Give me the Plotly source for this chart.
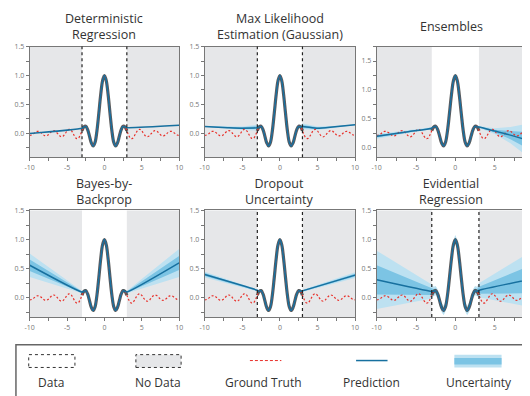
import plotly.graph_objects as go

W, H = 530, 396
OFF = 8  # page offset of the plot div inside the browser window

# ---------------- data ----------------
truth_x = [i * 0.25 for i in range(-40, 41)]
truth_y = [-0.033, -0.028, -0.008, 0.018, 0.035, 0.034, 0.014, -0.015, -0.038, -0.041,
           -0.022, 0.011, 0.040, 0.049, 0.031, -0.005, -0.042, -0.058, -0.043, -0.003,
           0.043, 0.070, 0.060, 0.014, -0.045, -0.086, -0.084, -0.033, 0.046, 0.112,
           0.125, 0.067, -0.047, -0.164, -0.217, -0.152, 0.047, 0.346, 0.665, 0.909,
           1.0,
           0.909, 0.665, 0.346, 0.047, -0.152, -0.217, -0.164, -0.047, 0.067, 0.125,
           0.112, 0.046, -0.033, -0.084, -0.086, -0.045, 0.014, 0.060, 0.070, 0.043,
           -0.003, -0.043, -0.058, -0.042, -0.005, 0.031, 0.049, 0.040, 0.011, -0.022,
           -0.041, -0.038, -0.015, 0.014, 0.034, 0.035, 0.018, -0.008, -0.028, -0.033]
assert len(truth_y) == len(truth_x)

titles = ["Deterministic<br>Regression", "Max Likelihood<br>Estimation (Gaussian)",
          "Ensembles", "Bayes-by-<br>Backprop", "Dropout<br>Uncertainty",
          "Evidential<br>Regression"]

# prediction anchors outside the data region (x < -3 and x > 3), std of uncertainty
det_x = [-10, -3, 3, 10]
det_y = [0.0, 0.09, 0.10, 0.14]
det_sd = [0, 0, 0, 0]
det_sd_in = 0.0

mle_x = [-10, -7, -5, -3, 3, 5, 7, 10]
mle_y = [0.12, 0.10, 0.09, 0.10, 0.12, 0.09, 0.11, 0.15]
mle_sd = [0.004, 0.008, 0.015, 0.025, 0.025, 0.015, 0.008, 0.004]
mle_sd_in = 0.015

ens_x = [-10, -6, -3, 3, 5, 7, 10]
ens_y = [-0.05, 0.03, 0.09, 0.11, 0.04, -0.03, -0.15]
ens_sd = [0.02, 0.012, 0.008, 0.008, 0.025, 0.07, 0.17]
ens_sd_in = 0.01

bbb_x = [-10, -3, 3, 10]
bbb_y = [0.56, 0.10, 0.10, 0.60]
bbb_sd = [0.10, 0.01, 0.01, 0.12]
bbb_sd_in = 0.015

drop_x = [-10, -3, 3, 10]
drop_y = [0.40, 0.13, 0.12, 0.39]
drop_sd = [0.025, 0.01, 0.01, 0.025]
drop_sd_in = 0.01

evi_x = [-10, -3, 3, 10]
evi_y = [0.31, 0.11, 0.13, 0.33]
evi_sd = [0.25, 0.06, 0.06, 0.25]
evi_sd_in = 0.04

panel_offset = [0, 0, 0.25, 0, 0, 0]
show_dash = [True, True, False, False, True, True]

x_tickvals = [-10, -7.5, -5, -2.5, 0, 2.5, 5, 7.5, 10]
x_ticktext = ["-10", "", "-5", "", "0", "", "5", "", "10"]
y_tickvals = [-0.25, 0, 0.25, 0.5, 0.75, 1.0, 1.25, 1.5, 1.75]
y_ticktext = ["", "0.0", "", "0.5", "", "1.0", "", "1.5", ""]

legend_labels = ["Data", "No Data", "Ground Truth", "Prediction", "Uncertainty"]

# ---------------- layout constants (window pixels) ----------------
cols_px = [(25, 177), (203, 356), (378, 538)]
rows_px = [(42, 154), (208, 316)]
row_yrange = [[-0.41, 1.5], [-0.33, 1.5]]
title_y = [22, 189]

BLUE = "#17709f"
LIGHT = "#bde1f1"
MED = "#7cc4e4"
GRAY_BG = "#e6e7e9"
RED = "#e8302a"
TXT = "#333333"
FONT = "Open Sans"

models = [(det_x, det_y, det_sd, det_sd_in), (mle_x, mle_y, mle_sd, mle_sd_in),
          (ens_x, ens_y, ens_sd, ens_sd_in), (bbb_x, bbb_y, bbb_sd, bbb_sd_in),
          (drop_x, drop_y, drop_sd, drop_sd_in), (evi_x, evi_y, evi_sd, evi_sd_in)]


def px2x(p):
    return (p - OFF) / W


def px2y(p):
    return 1 - (p - OFF) / H


fig = go.Figure()
shapes = []
annotations = []

inner_idx = [i for i, x in enumerate(truth_x) if -2.8 < x < 2.8]
data_idx = [i for i, x in enumerate(truth_x) if -3.0 <= x <= 3.0]

for k in range(6):
    r, c = divmod(k, 3)
    xa = "x" if k == 0 else f"x{k+1}"
    ya = "y" if k == 0 else f"y{k+1}"
    off = panel_offset[k]
    mx, my, msd, msd_in = models[k]

    left = [i for i, x in enumerate(mx) if x < 0]
    right = [i for i, x in enumerate(mx) if x > 0]
    px = [mx[i] for i in left] + [truth_x[i] for i in inner_idx] + [mx[i] for i in right]
    py = [my[i] + off for i in left] + [truth_y[i] + off for i in inner_idx] + [my[i] + off for i in right]
    sd = [msd[i] for i in left] + [msd_in] * len(inner_idx) + [msd[i] for i in right]

    if max(sd) > 0:
        for mult, col in [(2, LIGHT), (1, MED)]:
            up = [y + mult * s for y, s in zip(py, sd)]
            lo = [y - mult * s for y, s in zip(py, sd)]
            fig.add_trace(go.Scatter(x=px + px[::-1], y=up + lo[::-1], fill="toself",
                                     fillcolor=col, line=dict(width=0), mode="lines",
                                     hoverinfo="skip", showlegend=False, xaxis=xa, yaxis=ya))
    # observed data
    fig.add_trace(go.Scatter(x=[truth_x[i] for i in data_idx], y=[truth_y[i] + off for i in data_idx],
                             mode="lines", line=dict(color="#4a4a4a", width=3.2, shape="spline"),
                             opacity=0.9, showlegend=False, xaxis=xa, yaxis=ya))
    # ground truth
    fig.add_trace(go.Scatter(x=truth_x, y=[v + off for v in truth_y], mode="lines",
                             line=dict(color=RED, width=1.2, dash="2px,2px", shape="spline"),
                             showlegend=False, xaxis=xa, yaxis=ya))
    # prediction
    fig.add_trace(go.Scatter(x=px, y=py, mode="lines",
                             line=dict(color=BLUE, width=1.5, shape="spline", smoothing=0.6),
                             showlegend=False, xaxis=xa, yaxis=ya))

    x0p, x1p = cols_px[c]
    y0p, y1p = rows_px[r]
    yr = [row_yrange[r][0] + off, row_yrange[r][1] + off]
    if k == 2:
        yt = [0, 0.25, 0.5, 0.75, 1.0, 1.25, 1.5, 1.75]
        ytt = ["0.0", "", "0.5", "", "1.0", "", "1.5", ""]
    else:
        yt, ytt = y_tickvals, y_ticktext
    common = dict(showline=True, mirror=True, linecolor="#777777", linewidth=1,
                  ticks="outside", ticklen=3, tickwidth=1, tickcolor="#777777",
                  showgrid=False, zeroline=False,
                  tickfont=dict(family=FONT, size=7, color="#777777"))
    fig.layout[f"xaxis{'' if k == 0 else k+1}"] = dict(
        domain=[px2x(x0p), min(1.0, px2x(x1p))], anchor=ya, range=[-10, 10],
        tickvals=x_tickvals, ticktext=x_ticktext, **common)
    fig.layout[f"yaxis{'' if k == 0 else k+1}"] = dict(
        domain=[px2y(y1p), px2y(y0p)], anchor=xa, range=yr,
        tickvals=yt, ticktext=ytt, **common)

    for a, b in [(-10, -3), (3, 10)]:
        shapes.append(dict(type="rect", xref=xa, yref=f"{ya} domain", x0=a, x1=b, y0=0, y1=1,
                           fillcolor=GRAY_BG, line=dict(width=0), layer="below"))
    if show_dash[k]:
        for xv in (-3, 3):
            shapes.append(dict(type="line", xref=xa, yref=f"{ya} domain", x0=xv, x1=xv, y0=0, y1=1,
                               line=dict(color="#222222", width=1.2, dash="dot")))

    # titles
    cx = (x0p + min(x1p, 530)) / 2
    annotations.append(dict(text=titles[k], x=px2x(cx), y=px2y(title_y[r]), xref="paper", yref="paper",
                            showarrow=False, xanchor="center", yanchor="middle", align="center",
                            font=dict(family=FONT, size=12.5, color=TXT)))

# ---------------- legend box ----------------
shapes.append(dict(type="rect", xref="paper", yref="paper", x0=px2x(11), x1=1.05,
                   y0=px2y(344), y1=-0.1, line=dict(color="#666666", width=1.5),
                   fillcolor="rgba(0,0,0,0)"))
shapes.append(dict(type="rect", xref="paper", yref="paper", x0=px2x(24), x1=px2x(71),
                   y0=px2y(367), y1=px2y(354), fillcolor="white",
                   line=dict(color="#333333", width=1, dash="dot")))
shapes.append(dict(type="rect", xref="paper", yref="paper", x0=px2x(133), x1=px2x(179),
                   y0=px2y(367), y1=px2y(354), fillcolor=GRAY_BG,
                   line=dict(color="#333333", width=1, dash="dot")))
shapes.append(dict(type="line", xref="paper", yref="paper", x0=px2x(249), x1=px2x(281),
                   y0=px2y(360), y1=px2y(360), line=dict(color=RED, width=1, dash="3px,2px")))
shapes.append(dict(type="line", xref="paper", yref="paper", x0=px2x(357), x1=px2x(389),
                   y0=px2y(360), y1=px2y(360), line=dict(color=BLUE, width=1.5)))
shapes.append(dict(type="rect", xref="paper", yref="paper", x0=px2x(457), x1=px2x(505),
                   y0=px2y(367), y1=px2y(354), fillcolor=LIGHT, line=dict(width=0)))
shapes.append(dict(type="rect", xref="paper", yref="paper", x0=px2x(457), x1=px2x(505),
                   y0=px2y(364), y1=px2y(357.5), fillcolor=MED, line=dict(width=0)))
for lab, cx in zip(legend_labels, [47, 155, 263, 373, 482]):
    annotations.append(dict(text=lab, x=px2x(cx), y=px2y(382), xref="paper", yref="paper",
                            showarrow=False, xanchor="center", yanchor="middle",
                            font=dict(family=FONT, size=12, color=TXT)))

fig.update_layout(width=W, height=H, margin=dict(l=0, r=0, t=0, b=0),
                  paper_bgcolor="white", plot_bgcolor="white",
                  shapes=shapes, annotations=annotations, showlegend=False)

fig.write_html("out.html")
